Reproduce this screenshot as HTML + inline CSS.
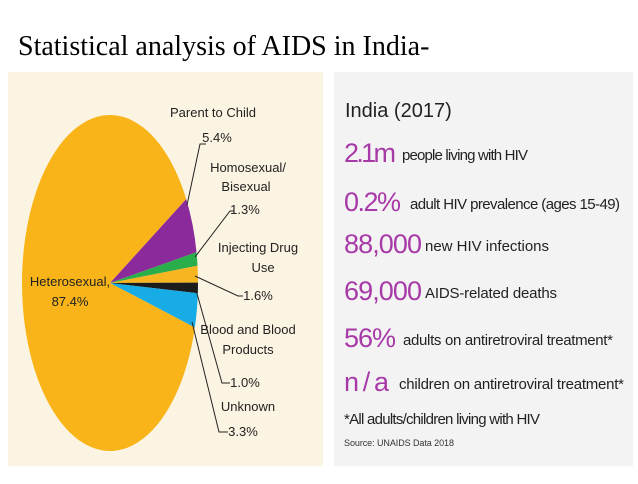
<!DOCTYPE html>
<html><head><meta charset="utf-8"><style>
body{margin:0;background:#fff;width:638px;height:479px;overflow:hidden;font-family:"Liberation Sans",sans-serif}
</style></head><body>
<svg width="638" height="479" viewBox="0 0 638 479">
<text x="18" y="55" font-family="Liberation Serif,serif" font-size="28" fill="#000">Statistical analysis of AIDS in India-</text>
<rect x="8" y="72" width="315" height="394" fill="#fcf4e2"/>
<g id="pie"></g>
<g font-size="13" fill="#222" text-anchor="middle">
<text x="70" y="286">Heterosexual,</text>
<text x="70" y="306">87.4%</text>
<text x="213" y="117">Parent to Child</text>
<text x="217" y="142">5.4%</text>
<text x="248" y="172">Homosexual/</text>
<text x="246" y="191">Bisexual</text>
<text x="245" y="214">1.3%</text>
<text x="258" y="252">Injecting Drug</text>
<text x="263" y="272">Use</text>
<text x="258" y="300">1.6%</text>
<text x="248" y="334">Blood and Blood</text>
<text x="248" y="354">Products</text>
<text x="245" y="387">1.0%</text>
<text x="248" y="411">Unknown</text>
<text x="243" y="436">3.3%</text>
</g>
<g stroke="#222" stroke-width="1" fill="none">
<polyline points="187,205 200,144 206,144"/>
<polyline points="195,257 230,211 234,211"/>
<polyline points="195,276 238,296 243,296"/>
<polyline points="196,290 222,383 230,383"/>
<polyline points="192,322 219,432 228,432"/>
</g>
<rect x="334" y="72" width="299" height="394" fill="#f3f3f3"/>
<g font-family="Liberation Sans,sans-serif">
<text x="345" y="117" font-size="20" fill="#222">India (2017)</text>
<g fill="#a83aa8" font-size="27">
<text x="344" y="162" textLength="52">2.1m</text>
<text x="344" y="211" textLength="57">0.2%</text>
<text x="344" y="253" textLength="78">88,000</text>
<text x="344" y="300" textLength="78">69,000</text>
<text x="344" y="347" textLength="52">56%</text>
<text x="344" y="391" textLength="45">n/a</text>
</g>
<g fill="#222" font-size="15">
<text x="402" y="160" textLength="126">people living with HIV</text>
<text x="410" y="209" textLength="210">adult HIV prevalence (ages 15-49)</text>
<text x="425" y="251" textLength="124">new HIV infections</text>
<text x="425" y="298" textLength="132">AIDS-related deaths</text>
<text x="403" y="345" textLength="210">adults on antiretroviral treatment*</text>
<text x="399" y="389" textLength="225">children on antiretroviral treatment*</text>
<text x="344" y="424" textLength="196">*All adults/children living with HIV</text>
</g>
<text x="344" y="446" font-size="9" fill="#333" textLength="110">Source: UNAIDS Data 2018</text>
</g>
</svg>
<script>
const categories=["Parent to Child","Homosexual/Bisexual","Injecting Drug Use","Blood and Blood Products","Unknown","Heterosexual"];
const values=[5.4,1.3,1.6,1.0,3.3,87.4];
const colors=["#8b2b9b","#2aae4b","#f7b521","#1c1c1c","#17ace6","#f8b418"];
const cx=110,cy=283,rx=88,ry=168,startDeg=-30;
const g=document.getElementById('pie');
const total=values.reduce((a,b)=>a+b,0);
let a=startDeg*Math.PI/180;
values.forEach((v,i)=>{
  const a2=a+v/total*2*Math.PI;
  const x1=cx+rx*Math.cos(a),y1=cy+ry*Math.sin(a),x2=cx+rx*Math.cos(a2),y2=cy+ry*Math.sin(a2);
  const large=(a2-a)>Math.PI?1:0;
  const p=document.createElementNS('http://www.w3.org/2000/svg','path');
  p.setAttribute('d',`M${cx},${cy}L${x1},${y1}A${rx},${ry} 0 ${large} 1 ${x2},${y2}Z`);
  p.setAttribute('fill',colors[i]);
  
  
  g.appendChild(p);
  a=a2;
});
</script>
</body></html>
